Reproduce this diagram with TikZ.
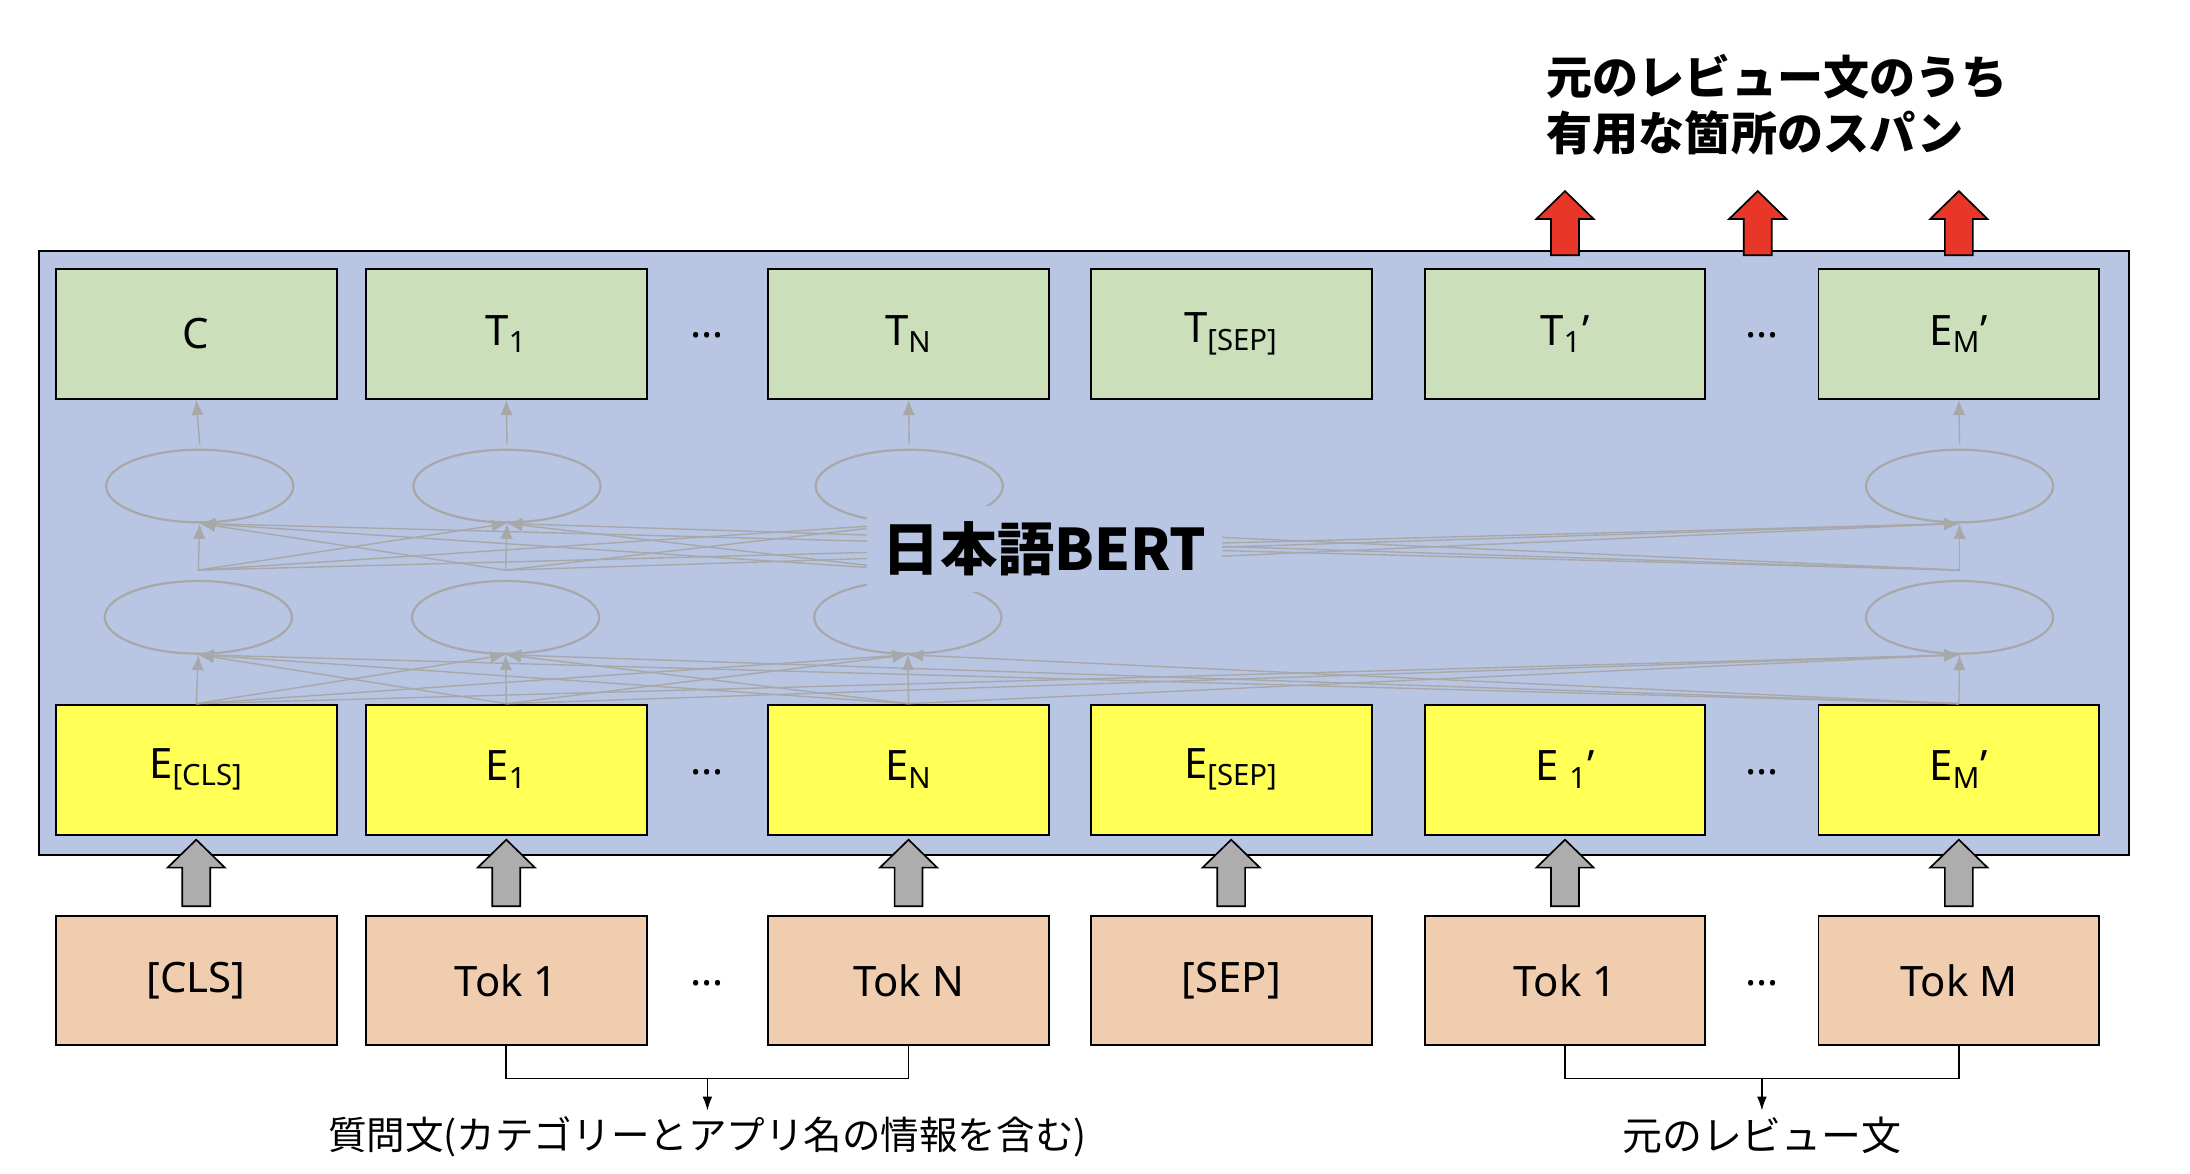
\documentclass[tikz,border=0pt]{standalone}
\usepackage{fontspec}
\setmainfont{Noto Sans}
\newfontfamily\jpfont{Noto Sans CJK JP}
\usetikzlibrary{shapes.geometric}
\usetikzlibrary{arrows.meta}
\usetikzlibrary{calc}

\definecolor{bertblue}{RGB}{184,198,228}
\definecolor{outgreen}{RGB}{203,223,187}
\definecolor{embyellow}{RGB}{255,255,85}
\definecolor{tokpeach}{RGB}{241,205,176}
\definecolor{meshgray}{RGB}{168,168,168}
\definecolor{fatgray}{RGB}{173,173,173}
\definecolor{spanred}{RGB}{232,54,40}

% fat block arrow: style, tail, tip
\newcommand{\fatarrow}[3]{%
  \filldraw[#1] ($(#2)+(-10,0)$) -- ($(#3)+(-10,20)$) -- ($(#3)+(-20.5,20)$) -- (#3)
    -- ($(#3)+(20.5,20)$) -- ($(#3)+(10,20)$) -- ($(#2)+(10,0)$) -- cycle;}

\begin{document}
\begin{tikzpicture}[x=0.5pt, y=-0.5pt,
    box/.style={draw, line width=0.7pt, minimum width=100.5pt, minimum height=46.5pt,
        inner sep=0pt, font=\fontsize{15}{18}\selectfont},
    outbox/.style={box, fill=outgreen},
    embbox/.style={box, fill=embyellow},
    tokbox/.style={box, fill=tokpeach},
    unit/.style={ellipse, draw=meshgray, line width=0.8pt, minimum width=67pt,
        minimum height=26pt, inner sep=0pt},
    mesh/.style={meshgray, line width=0.5pt, -{Latex[length=5.5pt,width=4.5pt]}},
    dots/.style={font=\fontsize{15}{18}\selectfont},
    greyblock/.style={fill=fatgray, draw=black, line width=0.6pt},
    redblock/.style={fill=spanred, draw=black, line width=0.6pt},
    jptext/.style={inner sep=2pt, font=\jpfont\fontsize{14.3}{17}\selectfont}]
    \useasboundingbox (0,0) rectangle (1568,840);

    % BERT body
    \draw[fill=bertblue, line width=0.7pt] (28,180) rectangle (1524,612);

    % outputs
    \node[outbox] (o1) at (140.5,239) {C};
    \node[outbox] (o2) at (362.5,239) {T\textsubscript{1}};
    \node[dots] (od1) at (506.5,240) {…};
    \node[outbox] (o3) at (650.5,239) {T\textsubscript{N}};
    \node[outbox] (o4) at (881.5,239) {T\textsubscript{[SEP]}};
    \node[outbox] (o5) at (1120.5,239) {T\textsubscript{1}’};
    \node[dots] (od2) at (1261.5,240) {…};
    \node[outbox] (o6) at (1402.5,239) {E\textsubscript{M}’};

    % embeddings
    \node[embbox] (e1) at (140.5,551) {E\textsubscript{[CLS]}};
    \node[embbox] (e2) at (362.5,551) {E\textsubscript{1}};
    \node[dots] (ed1) at (506.5,553) {…};
    \node[embbox] (e3) at (650.5,551) {E\textsubscript{N}};
    \node[embbox] (e4) at (881.5,551) {E\textsubscript{[SEP]}};
    \node[embbox] (e5) at (1120.5,551) {E \textsubscript{1}’};
    \node[dots] (ed2) at (1261.5,553) {…};
    \node[embbox] (e6) at (1402.5,551) {E\textsubscript{M}’};

    % tokens
    \node[tokbox] (t1) at (140.5,702) {[CLS]};
    \node[tokbox] (t2) at (362.5,702) {Tok 1};
    \node[dots] (td1) at (506.5,704) {…};
    \node[tokbox] (t3) at (650.5,702) {Tok N};
    \node[tokbox] (t4) at (881.5,702) {[SEP]};
    \node[tokbox] (t5) at (1120.5,702) {Tok 1};
    \node[dots] (td2) at (1261.5,704) {…};
    \node[tokbox] (t6) at (1402.5,702) {Tok M};

    % transformer units
    \node[unit] (u1) at (143,348) {};
    \node[unit] (u2) at (363,348) {};
    \node[unit] (u3) at (651,348) {};
    \node[unit] (u6) at (1403,348) {};
    \node[unit] (l1) at (142,442) {};
    \node[unit] (l2) at (362,442) {};
    \node[unit] (l3) at (650,442) {};
    \node[unit] (l6) at (1403,442) {};

    \foreach \s in {1,2,3,6} {
        \coordinate (h\s) at ($(l\s.north)+(0,-7)$);
        \foreach \t in {1,2,3,6} {
            \draw[mesh] (e\s.north) -- (l\t.south);
            \draw[mesh] (h\s) -- (u\t.south);
        }
        \draw[mesh] ($(u\s.north)+(0,-3)$) -- (o\s.south);
    }

    \node[fill=bertblue, minimum width=127pt, minimum height=31pt,
        font=\jpfont\fontsize{20.5}{24}\selectfont\bfseries] (bert) at (748,393) {日本語BERT};

    % input arrows
    \foreach \c in {1,...,6} {
        \coordinate (ft\c) at ($(t\c.north)+(0,-6)$);
        \coordinate (fh\c) at ($(e\c.south)+(0,3)$);
        \fatarrow{greyblock}{ft\c}{fh\c}
    }

    % span arrows
    \coordinate (rt1) at ($(o5.north)+(0,-9)$);
    \coordinate (rt2) at ($(o5.north)!0.5!(o6.north)+(-3,-9)$);
    \coordinate (rt3) at ($(o6.north)+(0,-9)$);
    \foreach \r in {1,2,3} {
        \coordinate (rh\r) at ($(rt\r)+(0,-46)$);
        \fatarrow{redblock}{rt\r}{rh\r}
    }
    \node[anchor=west, align=left, inner sep=0pt,
        font=\jpfont\fontsize{16.5}{20}\selectfont\bfseries] (spantitle) at (1107,75)
        {元のレビュー文のうち\\有用な箇所のスパン};

    % question / review brackets
    \coordinate (qmid) at ($(t2.south)!0.5!(t3.south)+(0,23)$);
    \node[jptext, anchor=north, font=\jpfont\fontsize{13.8}{17}\selectfont] (qtext)
        at ($(qmid)+(0,23)$) {質問文(カテゴリーとアプリ名の情報を含む)};
    \draw[line width=0.6pt] (t2.south) -- ++(0,23) -| (t3.south);
    \draw[line width=0.6pt, -{Latex[length=5pt,width=3.5pt]}] (qmid) -- (qtext.north);

    \coordinate (rmid) at ($(t5.south)!0.5!(t6.south)+(0,23)$);
    \node[jptext, anchor=north] (rtext) at ($(rmid)+(0,23)$) {元のレビュー文};
    \draw[line width=0.6pt] (t5.south) -- ++(0,23) -| (t6.south);
    \draw[line width=0.6pt, -{Latex[length=5pt,width=3.5pt]}] (rmid) -- (rtext.north);
\end{tikzpicture}
\end{document}
